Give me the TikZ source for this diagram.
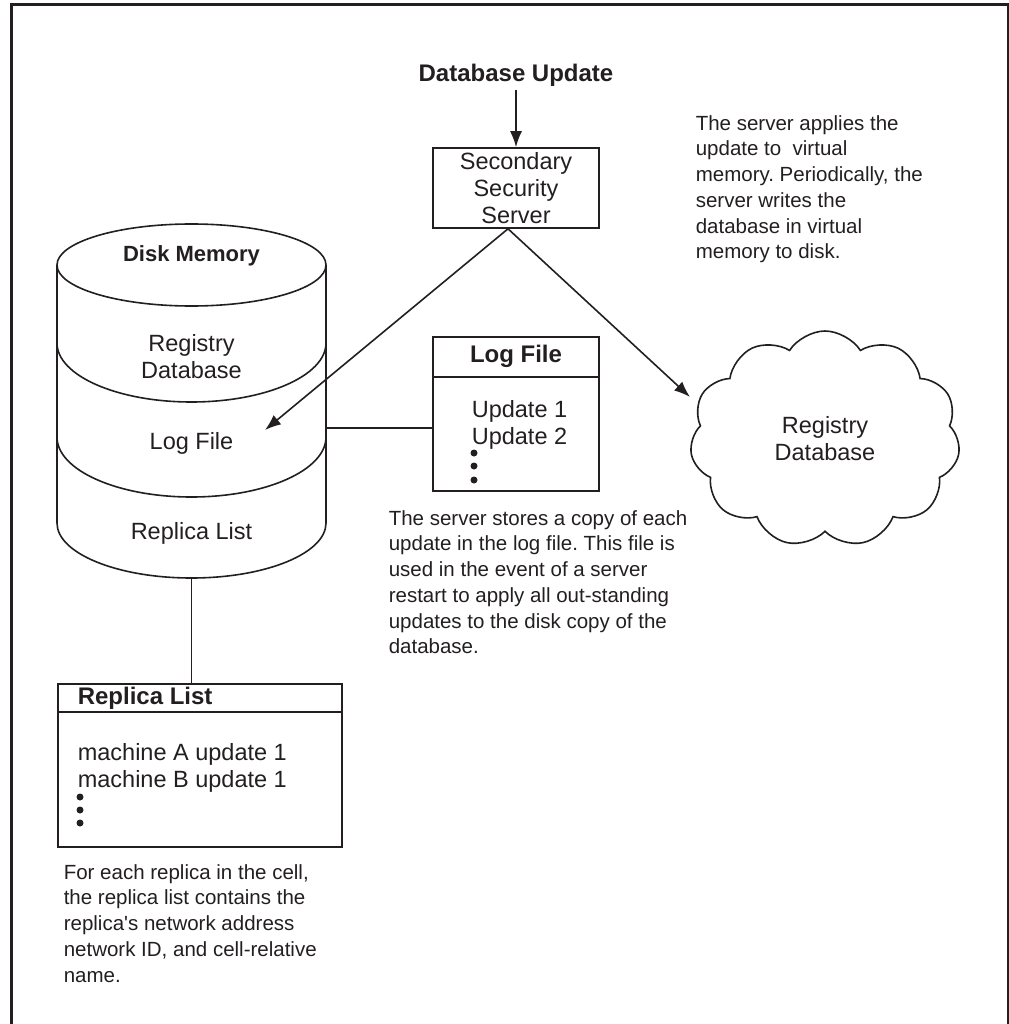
\documentclass[tikz,border=0pt]{standalone}
\usepackage{fontspec}
\setmainfont{Liberation Sans}
\usetikzlibrary{arrows.meta,shapes.symbols}
\definecolor{ink}{RGB}{35,31,32}
\frenchspacing

\begin{document}
\begin{tikzpicture}[x=1pt, y=-1pt, color=ink, line width=1.6pt,
    box/.style={draw, inner sep=0pt},
    feed/.style={-{Latex[length=16pt,width=12pt]}},
    body/.style={font=\fontsize{23.5}{27}\selectfont, inner sep=0pt},
    title/.style={font=\bfseries\fontsize{24}{28}\selectfont, inner sep=0pt},
    note/.style={font=\fontsize{20.5}{25.7}\selectfont, align=left, anchor=north west, inner sep=0pt}]
    \useasboundingbox (0,0) rectangle (1008,1024);
    \draw[line width=3pt] (11.5,4.5) rectangle (1008,1040);

    \node[title, anchor=base] (dbupdate) at (516,82) {Database Update};
    \node[box, body, align=center, minimum width=166pt, minimum height=80pt] (ssserver) at (516,188) {Secondary\\Security\\Server};
    \draw[feed, shorten <=2pt] (dbupdate) -- (ssserver);

    \draw (57,265) -- (57,523) arc[start angle=180, end angle=0, x radius=134.5, y radius=55] -- (326,265);
    \draw (191.5,265) ellipse[x radius=134.5, y radius=41];
    \foreach \y/\r in {343/59, 437/60}
        \draw (57,\y) arc[start angle=180, end angle=0, x radius=134.5, y radius=\r];
    \node[title, font=\bfseries\fontsize{22}{26}\selectfont] (disktitle) at (191.5,256) {Disk Memory};
    \node[body, align=center] (diskreg) at (191.5,357) {Registry\\Database};
    \node[body] (disklog) at (191.5,443) {Log File};
    \node[body] (diskrepl) at (191.5,533) {Replica List};

    \coordinate (login) at (265,430);
    \coordinate (diskside) at (326,428);
    \coordinate (diskbase) at (191.5,578);
    \coordinate (cloudin) at (690,397);
    \coordinate (fork) at ([xshift=-8pt]ssserver.south);
    \draw[feed] (fork) -- (login);
    \draw[feed] (fork) -- (cloudin);

    \node[box, minimum width=166pt, minimum height=154pt] (logbox) at (516,414) {};
    \draw ([yshift=-41pt]logbox.north west) -- ([yshift=-41pt]logbox.north east);
    \node[title] (logtitle) at (516,356) {Log File};
    \node[body, align=left, anchor=north west] (logitems) at (471,399.6) {Update 1\\Update 2};
    \foreach \y in {453,466,480}
        \fill (474,\y) circle (3.5pt);
    \draw (diskside) -- (diskside -| logbox.west);

    \node[draw, cloud, cloud puffs=11, cloud puff arc=115, cloud ignores aspect, minimum width=270pt, minimum height=216pt, body, align=center] (regcloud) at (825,439) {Registry\\Database};

    \node[box, minimum width=284pt, minimum height=163pt] (replbox) at (200,765.5) {};
    \draw ([yshift=-29pt]replbox.north west) -- ([yshift=-29pt]replbox.north east);
    \node[title, anchor=west] (repltitle) at (77,698) {Replica List};
    \node[body, align=left, anchor=north west] (replitems) at (77,742.6) {machine A update 1\\machine B update 1};
    \foreach \y in {797,810,823}
        \fill (80,\y) circle (3.5pt);
    \draw (diskbase) -- (diskbase |- replbox.north);

    \node[note] (servernote) at (695,114.6) {The server applies the\\update to~ virtual\\memory. Periodically, the\\server writes the\\database in virtual\\memory to disk.};
    \node[note] (lognote) at (388,509.6) {The server stores a copy of each\\update in the log file. This file is\\used in the event of a server\\restart to apply all out-standing\\updates to the disk copy of the\\database.};
    \node[note] (replnote) at (63,863.6) {For each replica in the cell,\\the replica list contains the\\replica\textquotesingle s network address\\network ID, and cell-relative\\name.};
\end{tikzpicture}
\end{document}
